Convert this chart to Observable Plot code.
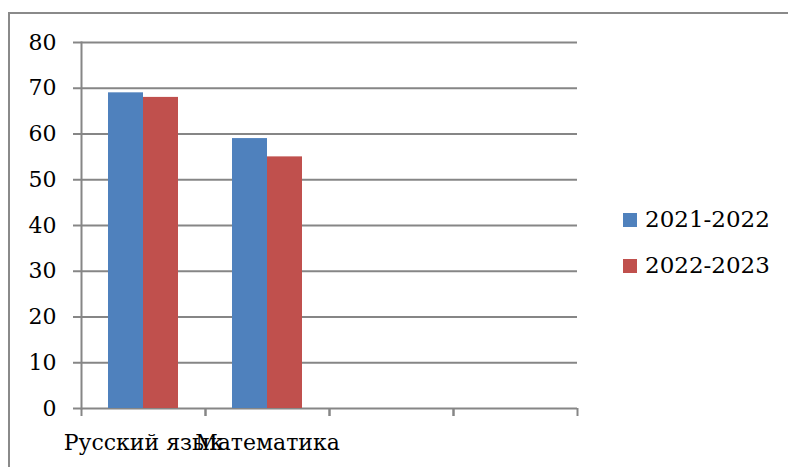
<!DOCTYPE html>
<html>
<head>
<meta charset="utf-8">
<script src="https://cdn.jsdelivr.net/npm/d3@7"></script>
<script src="https://cdn.jsdelivr.net/npm/@observablehq/plot@0.6"></script>
<style>
  html, body { margin: 0; padding: 0; background: #fff; }
  #wrap { position: relative; width: 788px; height: 467px; overflow: hidden; background: #fff; font-family: "DejaVu Serif", serif; }
  #border { position: absolute; left: 8px; top: 12px; width: 900px; height: 600px; border: 2px solid #8a8a8a; box-sizing: border-box; }
  #chart { position: absolute; left: 0; top: 0; }
  #legend { position: absolute; left: 623px; top: 200px; font-size: 23px; color: #000; }
  .item { position: relative; height: 46px; }
  .sw { position: absolute; left: 0; top: 13px; width: 14px; height: 14px; }
  .lbl { position: absolute; left: 22px; top: 4px; line-height: 30px; white-space: nowrap; }
</style>
</head>
<body>
<div id="wrap">
  <div id="border"></div>
  <div id="chart"></div>
  <div id="legend"></div>
</div>
<script>
const categories = ["Русский язык", "Математика", "Категория 3", "Категория 4"];
const categoryLabels = ["Русский язык", "Математика", "", ""];
const series = ["2021-2022", "2022-2023"];
const values2021 = [69, 59, null, null];
const values2022 = [68, 55, null, null];
const yTicks = [0, 10, 20, 30, 40, 50, 60, 70, 80];
const colors = ["#4F81BD", "#C0504D"];

const rows = [];
values2021.forEach((v, i) => rows.push({cat: categories[i], series: series[0], value: v}));
values2022.forEach((v, i) => rows.push({cat: categories[i], series: series[1], value: v}));

const labelOf = new Map(categories.map((c, i) => [c, categoryLabels[i]]));
const gray = "#868686";
const font = "DejaVu Serif";

const chart = Plot.plot({
  width: 788,
  height: 467,
  marginLeft: 80,
  marginRight: 210,
  marginTop: 42,
  marginBottom: 59,
  style: {fontFamily: font, fontSize: "22px", background: "transparent", color: "#000"},
  fx: {domain: categories, padding: 0, axis: null},
  x: {domain: series, paddingInner: 0, paddingOuter: 0.75, axis: null},
  y: {domain: [0, 80], axis: null},
  color: {domain: series, range: colors},
  marks: [
    Plot.ruleY(yTicks, {y: d => d, stroke: gray, strokeWidth: 2, strokeOpacity: 1}),
    Plot.barY(rows, {fx: "cat", x: "series", y: "value", fill: "series"}),
    Plot.frame({anchor: "left", facetAnchor: "left", stroke: gray, strokeWidth: 2, strokeOpacity: 1}),
    Plot.axisY({ticks: yTicks, tickSize: 8, tickPadding: 17, stroke: gray, strokeWidth: 2, strokeOpacity: 1, label: null, fontSize: 22, fill: "#000"}),
    Plot.axisFx({anchor: "bottom", tickSize: 8, text: null, dx: -62, stroke: gray, strokeWidth: 2, strokeOpacity: 1, label: null}),
    Plot.axisFx({anchor: "bottom", tickSize: 8, text: null, dx: 62, stroke: gray, strokeWidth: 2, strokeOpacity: 1, label: null}),
    Plot.axisFx({anchor: "bottom", tickSize: 0, tickPadding: 26, tickFormat: d => labelOf.get(d), label: null, fontSize: 22, fill: "#000"})
  ]
});
document.getElementById("chart").appendChild(chart);

const legend = document.getElementById("legend");
series.forEach((s, i) => {
  const item = document.createElement("div");
  item.className = "item";
  const sw = document.createElement("div");
  sw.className = "sw";
  sw.style.background = colors[i];
  const lbl = document.createElement("div");
  lbl.className = "lbl";
  lbl.textContent = s;
  item.appendChild(sw);
  item.appendChild(lbl);
  legend.appendChild(item);
});
</script>
</body>
</html>
